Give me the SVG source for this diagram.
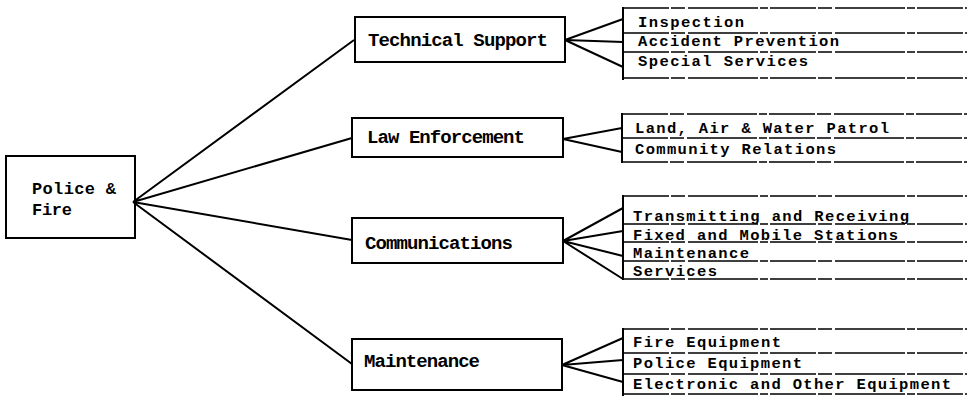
<svg xmlns="http://www.w3.org/2000/svg" width="967" height="396" viewBox="0 0 967 396">
  <style>
    .box { fill: none; stroke: #000; stroke-width: 2; }
    .rule { fill: none; stroke: #000; stroke-width: 1.6; stroke-dasharray: 46 2 14 3 70 2 8 2; }
    .bar { fill: none; stroke: #000; stroke-width: 2; }
    .link { fill: none; stroke: #000; stroke-width: 2; }
    text { font-family: "Liberation Mono", "DejaVu Sans Mono", monospace; font-weight: bold; font-size: 19px; fill: #000; }
    .item { font-size: 15.5px; }
    .root { font-size: 17px; }
  </style>
  <rect width="967" height="396" fill="#fff"/>

  <!-- connectors: root to divisions, divisions to sub-functions -->
  <g id="connectors">
    <path class="link" d="M133 202 L354 40 M133 202 L352 138 M133 202 L352 240 M133 202 L352 364"/>
    <path class="link" d="M565 40 L623 19 M565 40 L623 42 M565 40 L623 67"/>
    <path class="link" d="M563 139 L622 128 M563 139 L622 152"/>
    <path class="link" d="M563 241 L623 208 M563 241 L623 231 M563 241 L623 256 M563 241 L623 279"/>
    <path class="link" d="M562 365 L623 338 M562 365 L623 360 M562 365 L623 382"/>
  </g>

  <g id="police-fire">
    <rect class="box" x="6" y="156" width="129" height="82"/>
    <text class="root" x="32" y="194" textLength="84">Police &amp;</text>
    <text class="root" x="32" y="215" textLength="40">Fire</text>
  </g>

  <g id="technical-support">
    <rect class="box" x="355" y="17" width="210" height="45"/>
    <text x="368" y="46" textLength="180">Technical Support</text>
  </g>

  <g id="law-enforcement">
    <rect class="box" x="352" y="118" width="211" height="39"/>
    <text x="367" y="143" textLength="158">Law Enforcement</text>
  </g>

  <g id="communications">
    <rect class="box" x="352" y="218" width="211" height="45"/>
    <text x="365" y="249" textLength="148">Communications</text>
  </g>

  <g id="maintenance">
    <rect class="box" x="352" y="339" width="210" height="51"/>
    <text x="364" y="367" textLength="116">Maintenance</text>
  </g>

  <g id="technical-support-list">
    <path class="bar" d="M623 7 V80"/>
    <path class="rule" d="M623 8 H967 M623 33 H967 M623 52 H967 M623 78 H967"/>
    <text class="item" x="638" y="27" textLength="106">Inspection</text>
    <text class="item" x="638" y="46" textLength="201">Accident Prevention</text>
    <text class="item" x="638" y="66" textLength="170">Special Services</text>
  </g>

  <g id="law-enforcement-list">
    <path class="bar" d="M622 113 V163"/>
    <path class="rule" d="M622 114 H967 M622 138 H967 M622 162 H967"/>
    <text class="item" x="635" y="133" textLength="254">Land, Air &amp; Water Patrol</text>
    <text class="item" x="635" y="154" textLength="201">Community Relations</text>
  </g>

  <g id="communications-list">
    <path class="bar" d="M623 195 V280"/>
    <path class="rule" d="M623 196 H967 M623 224 H967 M623 242 H967 M623 261 H967 M623 279 H967"/>
    <text class="item" x="633" y="221" textLength="276">Transmitting and Receiving</text>
    <text class="item" x="633" y="240" textLength="265">Fixed and Mobile Stations</text>
    <text class="item" x="633" y="258" textLength="116">Maintenance</text>
    <text class="item" x="633" y="276" textLength="84">Services</text>
  </g>

  <g id="maintenance-list">
    <path class="bar" d="M623 328 V396"/>
    <path class="rule" d="M623 329 H967 M623 353 H967 M623 374 H967 M623 394 H967"/>
    <text class="item" x="633" y="347" textLength="148">Fire Equipment</text>
    <text class="item" x="633" y="368" textLength="169">Police Equipment</text>
    <text class="item" x="633" y="389" textLength="318">Electronic and Other Equipment</text>
  </g>
</svg>
